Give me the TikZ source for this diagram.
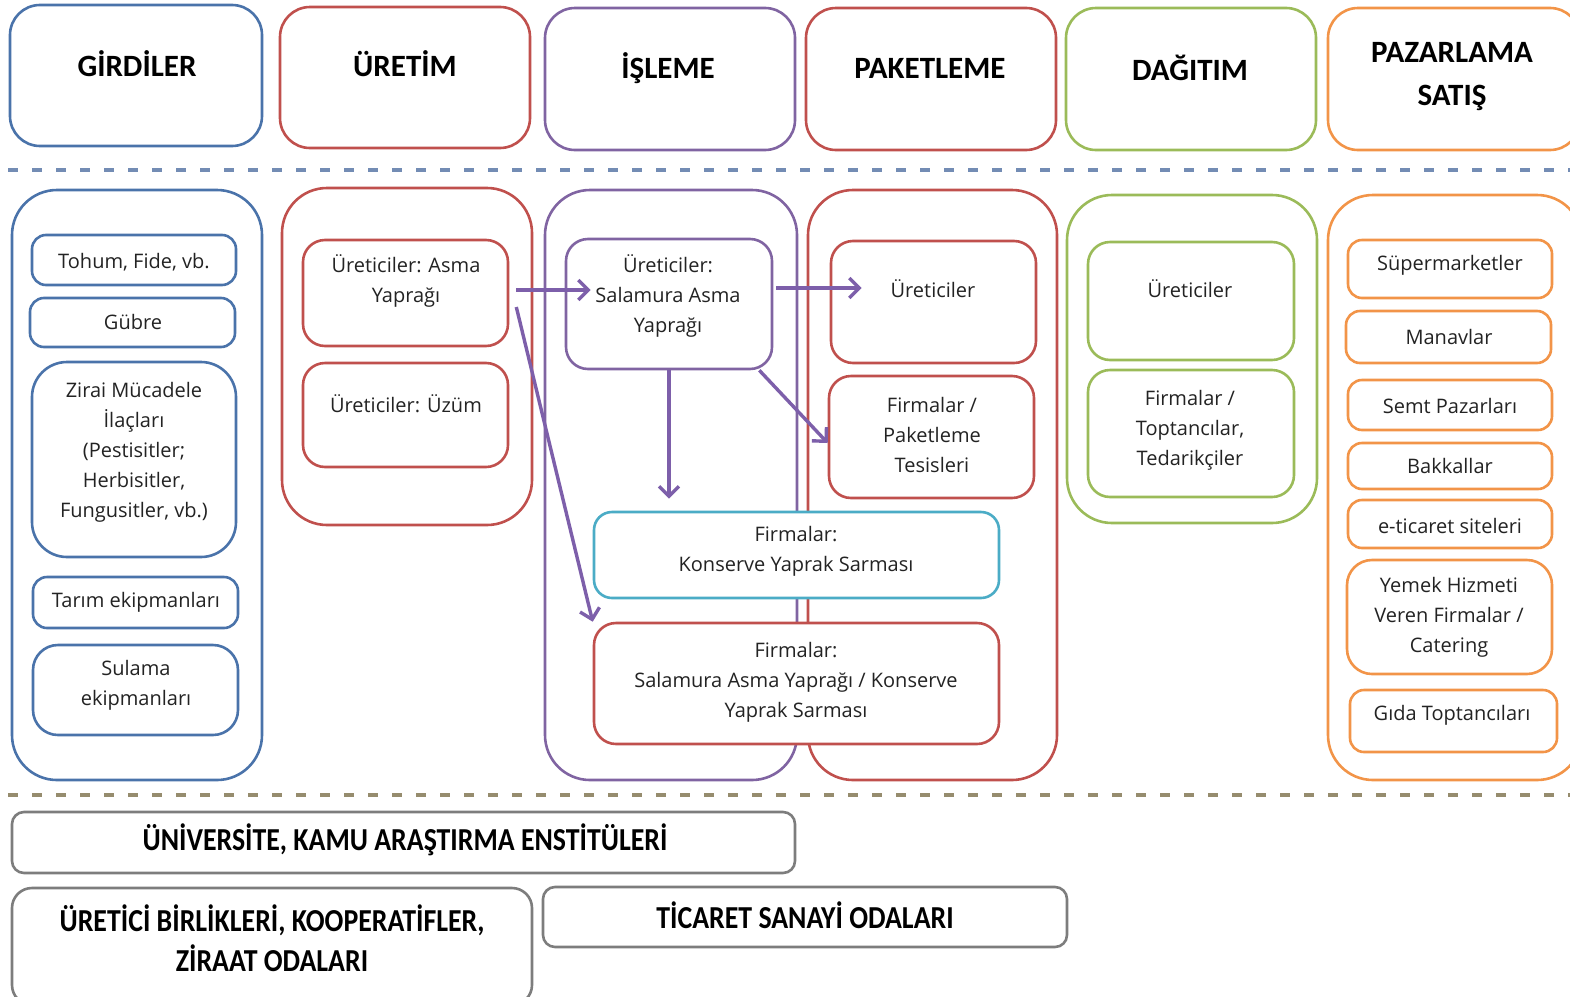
\documentclass[tikz,border=0pt]{standalone}
\usepackage{fontspec}
\setmainfont{Open Sans}
\newfontfamily\hdrfont{Carlito}
\newfontfamily\condfont[FakeStretch=0.87]{Carlito}
\usetikzlibrary{fit,arrows.meta}
\definecolor{cBlue}{RGB}{74,115,170}
\definecolor{cRed}{RGB}{192,80,77}
\definecolor{cPurple}{RGB}{128,100,162}
\definecolor{cGreen}{RGB}{155,187,89}
\definecolor{cOrange}{RGB}{242,148,72}
\definecolor{cCyan}{RGB}{75,172,198}
\definecolor{cGray}{RGB}{125,125,125}
\definecolor{cArrow}{RGB}{125,95,170}
\definecolor{cDashA}{RGB}{115,140,180}
\definecolor{cDashB}{RGB}{150,140,110}
\definecolor{cText}{RGB}{35,35,35}
\newcommand\bx[7][16pt]{\node[boxbase,#3,rounded corners=#1,fit={(#4,#5) (#6,#7)}] (#2) {};}
\begin{document}
\begin{tikzpicture}[x=1pt,y=-1pt,
  boxbase/.style={draw,fill=white,inner sep=0pt,line width=2.6pt},
  txt/.style={align=center,inner sep=0pt,text=cText,font=\fontsize{20}{30}\selectfont},
  htxt/.style={align=center,inner sep=0pt,text=black,font=\hdrfont\bfseries\fontsize{31}{43}\selectfont},
  btxt/.style={align=center,inner sep=0pt,text=black,font=\condfont\bfseries\fontsize{32}{40}\selectfont},
  arr/.style={draw=cArrow,line width=3.4pt,-{Straight Barb[length=10pt,width=20pt,line width=3.4pt]}},
  dashline/.style={line width=4pt,dash pattern=on 10pt off 14pt}]
\useasboundingbox (0,0) rectangle (1570,996);
\fill[white] (0,0) rectangle (1570,996);
% headers
\bx[30pt]{girH}{draw=cBlue}{10}{5}{262}{146}
\bx[30pt]{uretH}{draw=cRed}{280}{7}{530}{148}
\bx[30pt]{islH}{draw=cPurple}{545}{8}{795}{150}
\bx[30pt]{pakH}{draw=cRed}{806}{8}{1056}{150}
\bx[30pt]{dagH}{draw=cGreen}{1066}{8}{1316}{150}
\bx[30pt]{pazH}{draw=cOrange}{1328}{8}{1580}{150}
\node[htxt] (girT) at (137,64) {GİRDİLER};
\node[htxt] (uretT) at (405,64) {ÜRETİM};
\node[htxt] (islT) at (668,68) {İŞLEME};
\node[htxt] (pakT) at (930,68) {PAKETLEME};
\node[htxt] (dagT) at (1190,68) {DAĞITIM};
\node[htxt] (pazT) at (1452,77) {PAZARLAMA\\SATIŞ};
% dashed separators
\draw[dashline,draw=cDashA] (8,170) -- (1570,170);
\draw[dashline,draw=cDashB] (8,795) -- (1570,795);
% columns
\bx[45pt]{girC}{draw=cBlue}{12}{190}{262}{780}
\bx[45pt]{uretC}{draw=cRed}{282}{188}{532}{525}
\bx[45pt]{islC}{draw=cPurple}{545}{190}{797}{780}
\bx[45pt]{pakC}{draw=cRed}{808}{190}{1057}{780}
\bx[45pt]{dagC}{draw=cGreen}{1067}{195}{1317}{523}
\bx[45pt]{pazC}{draw=cOrange}{1328}{195}{1582}{780}
% girdiler
\bx[14pt]{tohum}{draw=cBlue}{32}{235}{236}{285}
\bx[14pt]{gubre}{draw=cBlue}{30}{298}{235}{347}
\bx[35pt]{zirai}{draw=cBlue}{32}{362}{236}{557}
\bx[14pt]{tarim}{draw=cBlue}{33}{577}{238}{628}
\bx[25pt]{sulama}{draw=cBlue}{33}{645}{238}{735}
\node[txt] at (134,262) {Tohum, Fide, vb.};
\node[txt] at (133,322) {Gübre};
\node[txt] at (134,452) {Zirai Mücadele\\İlaçları\\(Pestisitler;\\Herbisitler,\\Fungusitler, vb.)};
\node[txt] at (136,602) {Tarım ekipmanları};
\node[txt] at (136,685) {Sulama\\ekipmanları};
% uretim
\bx[22pt]{asma}{draw=cRed}{303}{240}{508}{346}
\bx[22pt]{uzum}{draw=cRed}{303}{363}{508}{467}
\node[txt] at (406,281) {Üreticiler: Asma\\Yaprağı};
\node[txt] at (406,404) {Üreticiler: Üzüm};
% isleme
\bx[22pt]{sal}{draw=cPurple}{566}{239}{772}{369}
\node[txt] at (668,296) {Üreticiler:\\Salamura Asma\\Yaprağı};
% paketleme
\bx[22pt]{pku}{draw=cRed}{831}{241}{1036}{363}
\bx[22pt]{pkf}{draw=cRed}{829}{376}{1034}{498}
\node[txt] at (933,289) {Üreticiler};
\node[txt] at (932,435) {Firmalar /\\Paketleme\\Tesisleri};
% wide firms
\bx[18pt]{kons}{draw=cCyan}{594}{512}{999}{598}
\bx[22pt]{firm}{draw=cRed}{594}{623}{999}{744}
\node[txt] at (796,551) {Firmalar:\\Konserve Yaprak Sarması};
\node[txt] at (796,682) {Firmalar:\\Salamura Asma Yaprağı / Konserve\\Yaprak Sarması};
% dagitim
\bx[22pt]{dgu}{draw=cGreen}{1088}{242}{1294}{360}
\bx[22pt]{dgf}{draw=cGreen}{1088}{370}{1294}{497}
\node[txt] at (1190,289) {Üreticiler};
\node[txt] at (1190,430) {Firmalar /\\Toptancılar,\\Tedarikçiler};
% pazarlama
\bx[14pt]{sup}{draw=cOrange}{1348}{240}{1552}{298}
\bx[14pt]{man}{draw=cOrange}{1346}{311}{1551}{363}
\bx[14pt]{semt}{draw=cOrange}{1348}{380}{1552}{430}
\bx[14pt]{bak}{draw=cOrange}{1348}{443}{1552}{489}
\bx[14pt]{etic}{draw=cOrange}{1348}{500}{1552}{548}
\bx[25pt]{yem}{draw=cOrange}{1347}{560}{1552}{674}
\bx[14pt]{gida}{draw=cOrange}{1350}{690}{1557}{752}
\node[txt] at (1450,265) {Süpermarketler};
\node[txt] at (1449,337) {Manavlar};
\node[txt] at (1450,406) {Semt Pazarları};
\node[txt] at (1450,466) {Bakkallar};
\node[txt] at (1450,526) {e-ticaret siteleri};
\node[txt] at (1449,617) {Yemek Hizmeti\\Veren Firmalar /\\Catering};
\node[txt] at (1452,715) {Gıda Toptancıları};
% bottom
\bx[12pt]{uni}{draw=cGray}{12}{812}{795}{873}
\bx[20pt]{ubk}{draw=cGray}{12}{888}{532}{1005}
\bx[12pt]{tic}{draw=cGray}{543}{887}{1067}{947}
\node[btxt] at (405,840) {ÜNİVERSİTE, KAMU ARAŞTIRMA ENSTİTÜLERİ};
\node[btxt] at (272,938) {ÜRETİCİ BİRLİKLERİ, KOOPERATİFLER,\\ZİRAAT ODALARI};
\node[btxt] at (805,915) {TİCARET SANAYİ ODALARI};
% arrows
\draw[arr] ([shift={(7pt,3pt)}]asma.east) -- ([shift={(26pt,14pt)}]sal.west);
\draw[arr] ([shift={(3pt,16pt)}]sal.east) -- ([shift={(32pt,14pt)}]pku.west);
\draw[arr] (sal.south) -- ([yshift=12pt]sal.south |- kons.north);
\draw[arr] ([xshift=-14pt]sal.south east) -- ([yshift=-6pt]pkf.west);
\draw[arr] ([shift={(7pt,-14pt)}]asma.east) -- (firm.north west);
\end{tikzpicture}
\end{document}
